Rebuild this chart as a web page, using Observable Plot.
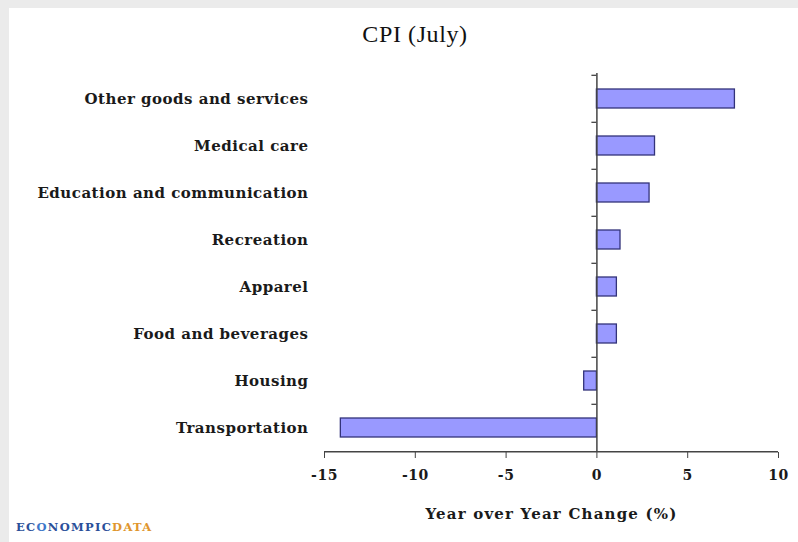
<!DOCTYPE html>
<html>
<head>
<meta charset="utf-8">
<script src="https://cdn.jsdelivr.net/npm/d3@7"></script>
<script src="https://cdn.jsdelivr.net/npm/@observablehq/plot@0.6"></script>
<style>
  html, body { margin: 0; padding: 0; background: #ebebeb; width: 798px; height: 542px; overflow: hidden; }
  #panel { position: absolute; left: 9px; top: 8px; width: 789px; height: 534px; background: #ffffff; }
  #chart { position: absolute; left: 0; top: 0; }
  #title { position: absolute; left: 0; width: 830px; top: 21px; text-align: center;
           font-family: "Liberation Serif", serif; font-size: 24px; letter-spacing: 0.6px; color: #111; }
  #logo { position: absolute; left: 16px; top: 520px; font-family: "DejaVu Serif", serif; font-weight: bold;
          font-size: 11.5px; letter-spacing: 1.3px; color: #2a4f9a; }
  #logo .o { color: #3d78c9; }
  #logo .d { color: #e0962e; }
  #chart svg g[aria-label="y-axis tick label"] text,
  #chart svg g[aria-label="x-axis tick label"] text { letter-spacing: 0.5px; }
  #chart svg g[aria-label="x-axis label"] text { letter-spacing: 1.2px; }
</style>
</head>
<body>
<div id="panel"></div>
<div id="chart"></div>
<div id="title">CPI (July)</div>
<div id="logo">EC<span class="o">O</span>NOMPIC<span class="d">DATA</span></div>
<script>
const categories = [
  "Other goods and services",
  "Medical care",
  "Education and communication",
  "Recreation",
  "Apparel",
  "Food and beverages",
  "Housing",
  "Transportation"
];
const values = [7.6, 3.2, 2.9, 1.3, 1.1, 1.1, -0.7, -14.1];
const xTicks = [-15, -10, -5, 0, 5, 10];
const xLabel = "Year over Year Change (%)";

const data = categories.map((c, i) => ({category: c, value: values[i]}));

const W = 798, H = 542, mL = 324, mR = 20, mT = 73, mB = 90;
const step = (H - mT - mB) / categories.length;
const pxPerUnit = (W - mL - mR) / (xTicks[xTicks.length - 1] - xTicks[0]);

const chart = Plot.plot({
  width: W,
  height: H,
  marginLeft: mL,
  marginRight: mR,
  marginTop: mT,
  marginBottom: mB,
  style: { background: "transparent", fontFamily: "'DejaVu Serif', serif", color: "#1a1a1a" },
  x: { domain: [xTicks[0], xTicks[xTicks.length - 1]] },
  y: { domain: categories, paddingInner: 0.6, paddingOuter: 0.3 },
  marks: [
    Plot.barX(data, { x: "value", y: "category", fill: "#9999ff", stroke: "#33337a", strokeWidth: 1.3 }),
    Plot.ruleX([0], { stroke: "#444", strokeWidth: 1.5 }),
    Plot.ruleY(categories, { y: d => d, x1: -5 / pxPerUnit, x2: 0, dy: -step / 2, stroke: "#444", strokeWidth: 1.3 }),
    Plot.ruleY([categories[categories.length - 1]], { y: d => d, x1: xTicks[0], x2: xTicks[xTicks.length - 1], dy: step / 2, stroke: "#444", strokeWidth: 1.5 }),
    Plot.axisX({
      ticks: xTicks, tickFormat: d => String(d), tickSize: 6, tickPadding: 12,
      fontSize: 14, fontWeight: "bold", stroke: "#444",
      label: xLabel, labelAnchor: "center", labelArrow: false, labelOffset: 66
    }),
    Plot.axisY({ tickSize: 0, tickPadding: 16, fontSize: 15, fontWeight: "bold", label: null })
  ]
});
document.getElementById("chart").appendChild(chart);
// Plot puts the axis label's font size on the axis group; enlarge the label text a little
const lbl = chart.querySelector('g[aria-label="x-axis label"]');
if (lbl) lbl.setAttribute("font-size", 15);
</script>
</body>
</html>
